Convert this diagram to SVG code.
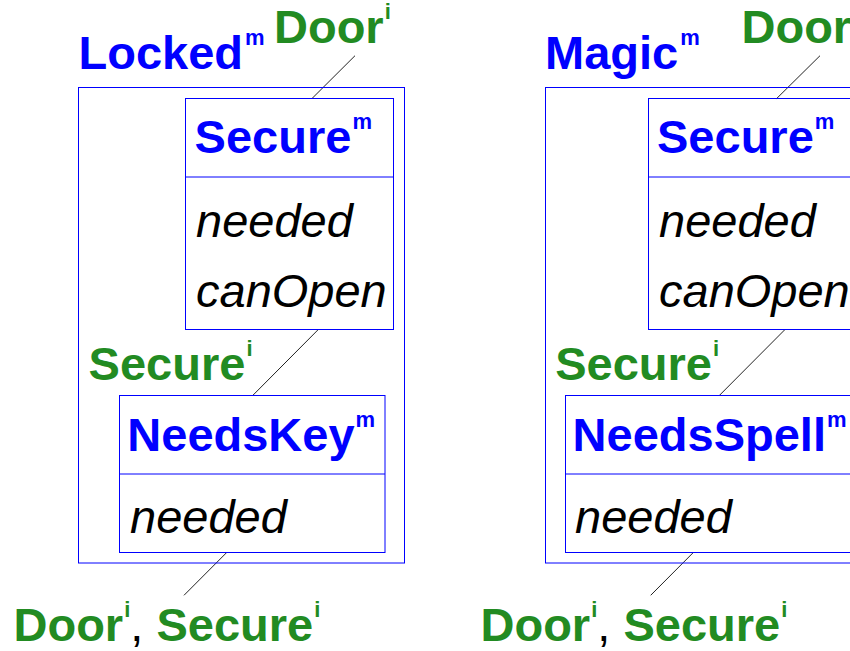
<svg xmlns="http://www.w3.org/2000/svg" width="850" height="651" viewBox="0 0 850 651">
  <style>
    .box { fill: none; stroke: #0000ff; stroke-width: 1; }
    .div { stroke: #0000ff; stroke-width: 1; }
    .link { stroke: #222; stroke-width: 1; fill: none; }
    .name { font-family: "Liberation Sans", Arial, sans-serif; font-weight: bold; font-size: 47px; fill: #0000ff; }
    .role { font-family: "Liberation Sans", Arial, sans-serif; font-weight: bold; font-size: 47px; fill: #228b22; }
    .attr { font-family: "Liberation Sans", Arial, sans-serif; font-style: italic; font-size: 47px; fill: #000; }
    .sup { font-size: 22px; }
    .sep { fill: #000; font-weight: normal; }
  </style>
  <rect width="850" height="651" fill="#fff"/>

  <!-- connectors between nested classes and role labels -->
  <g id="connectors">
    <line class="link" x1="312" y1="98.5" x2="355" y2="55.7"/>
    <line class="link" x1="318.3" y1="329.5" x2="252.7" y2="395.5"/>
    <line class="link" x1="226.7" y1="552.5" x2="184" y2="595.3"/>
    <line class="link" x1="776.7" y1="98.5" x2="820" y2="55.7"/>
    <line class="link" x1="785" y1="329.5" x2="719.3" y2="395.5"/>
    <line class="link" x1="693.3" y1="552.5" x2="650.7" y2="595.3"/>
  </g>

  <!-- Locked mixin -->
  <g id="locked">
    <rect class="box" x="78.5" y="87.5" width="326" height="475.5"/>
    <text class="name" x="78.5" y="69">Locked<tspan class="sup" dy="-24" dx="2">m</tspan></text>
  </g>
  <g id="locked-door-label">
    <text class="role" x="274" y="42.7">Door<tspan class="sup" dy="-24" dx="1">i</tspan></text>
  </g>
  <g id="locked-secure">
    <rect class="box" x="185.5" y="98.5" width="208" height="231"/>
    <line class="div" x1="185.5" y1="177" x2="393.5" y2="177"/>
    <text class="name" x="194.6" y="153.3">Secure<tspan class="sup" dy="-24" dx="1">m</tspan></text>
    <text class="attr" x="196" y="236.7">needed</text>
    <text class="attr" x="196" y="306.7">canOpen</text>
  </g>
  <g id="locked-secure-label">
    <text class="role" x="88.6" y="380">Secure<tspan class="sup" dy="-24" dx="1">i</tspan></text>
  </g>
  <g id="needskey">
    <rect class="box" x="119.5" y="395.5" width="265.5" height="157"/>
    <line class="div" x1="119.5" y1="474" x2="385" y2="474"/>
    <text class="name" x="127.3" y="451">NeedsKey<tspan class="sup" dy="-24" dx="1">m</tspan></text>
    <text class="attr" x="130" y="533.3">needed</text>
  </g>
  <g id="locked-bottom-label">
    <text class="role" x="13.5" y="641">Door<tspan class="sup" dy="-24" dx="1">i</tspan><tspan class="sep" dy="24">,</tspan> Secure<tspan class="sup" dy="-24" dx="1">i</tspan></text>
  </g>

  <!-- Magic mixin -->
  <g id="magic">
    <rect class="box" x="545.5" y="87.5" width="326" height="475.5"/>
    <text class="name" x="545" y="69">Magic<tspan class="sup" dy="-24" dx="2">m</tspan></text>
  </g>
  <g id="magic-door-label">
    <text class="role" x="741.5" y="42.7">Door<tspan class="sup" dy="-24" dx="1">i</tspan></text>
  </g>
  <g id="magic-secure">
    <rect class="box" x="648.5" y="98.5" width="208" height="231"/>
    <line class="div" x1="648.5" y1="177" x2="856.5" y2="177"/>
    <text class="name" x="657" y="153.3">Secure<tspan class="sup" dy="-24" dx="1">m</tspan></text>
    <text class="attr" x="659" y="236.7">needed</text>
    <text class="attr" x="659" y="306.7">canOpen</text>
  </g>
  <g id="magic-secure-label">
    <text class="role" x="555.2" y="380">Secure<tspan class="sup" dy="-24" dx="1">i</tspan></text>
  </g>
  <g id="needsspell">
    <rect class="box" x="565.5" y="395.5" width="300" height="157"/>
    <line class="div" x1="565.5" y1="474" x2="865.5" y2="474"/>
    <text class="name" x="572.6" y="451">NeedsSpell<tspan class="sup" dy="-24" dx="1">m</tspan></text>
    <text class="attr" x="575" y="533.3">needed</text>
  </g>
  <g id="magic-bottom-label">
    <text class="role" x="480.5" y="641">Door<tspan class="sup" dy="-24" dx="1">i</tspan><tspan class="sep" dy="24">,</tspan> Secure<tspan class="sup" dy="-24" dx="1">i</tspan></text>
  </g>
</svg>
